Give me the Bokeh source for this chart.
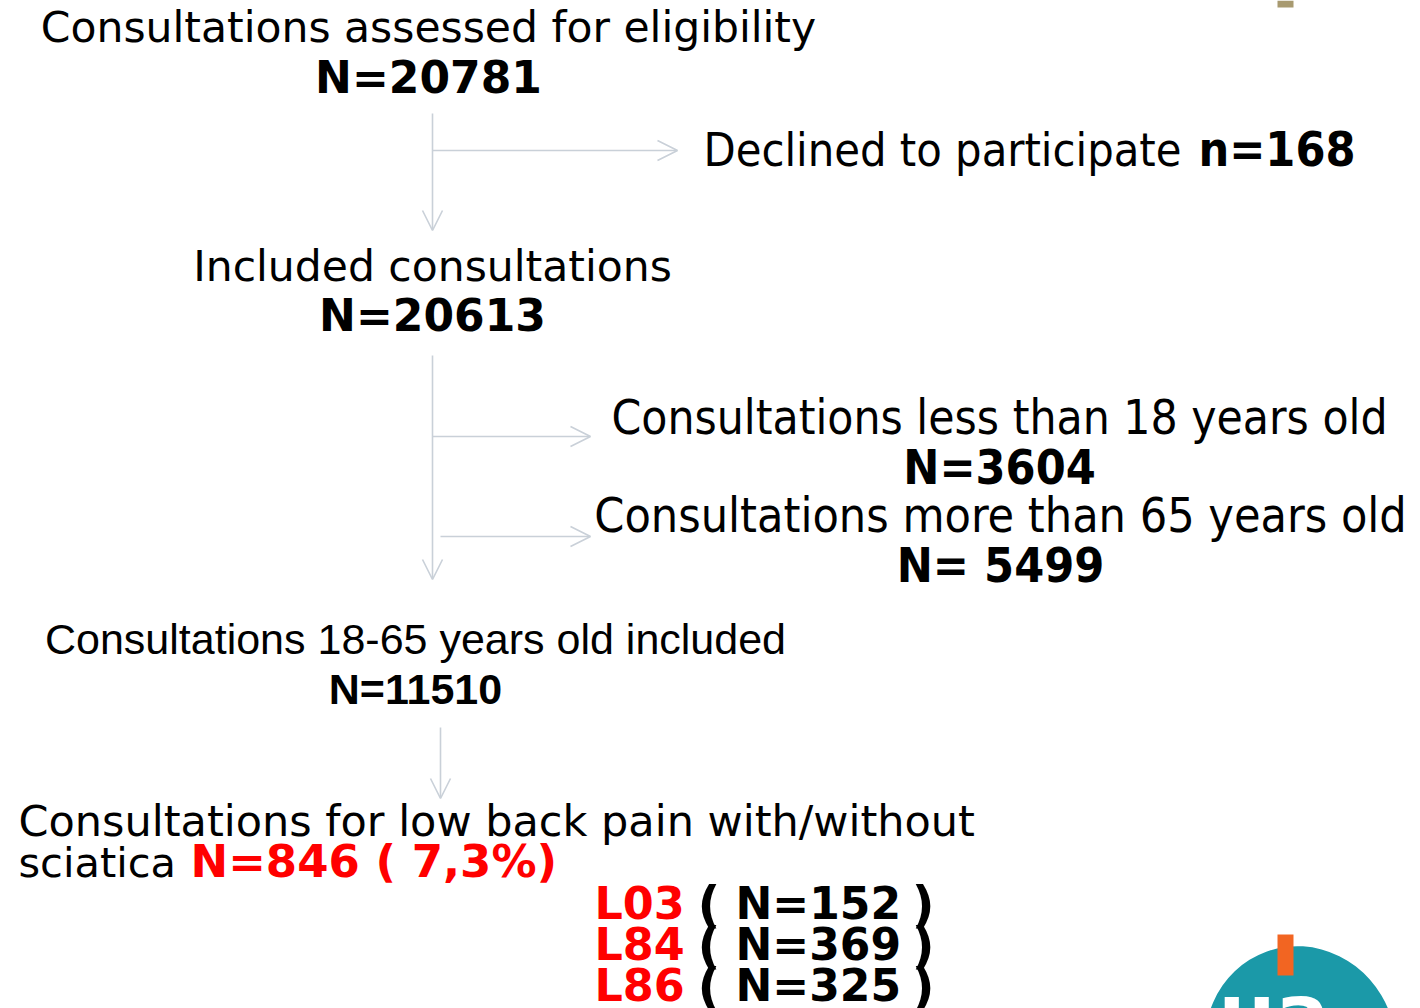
from bokeh.plotting import figure
from bokeh.models import Range1d, Arrow, OpenHead
from bokeh.core.properties import value
from bokeh.embed import file_html
from bokeh.resources import INLINE

# ---- data ----
stage_labels = ["Consultations assessed for eligibility", "Included consultations",
                "Consultations 18-65 years old included",
                "Consultations for low back pain with/without"]
stage_counts = [20781, 20613, 11510, 846]
lbp_tail = "sciatica"
lbp_share = "7,3%"
excluded_labels = ["Declined to participate", "Consultations less than 18 years old",
                   "Consultations more than 65 years old"]
excluded_counts = [168, 3604, 5499]
codes = ["L03", "L84", "L86"]
code_counts = [152, 369, 325]

# ---- layout (pixel positions) ----
W, H = 1420, 1008
p = figure(width=W, height=H, output_backend="svg", toolbar_location=None,
           x_range=Range1d(0, W), y_range=Range1d(H, 0), min_border=0)
p.axis.visible = False
p.grid.visible = False
p.outline_line_color = None
p.background_fill_color = "white"
p.border_fill_color = "white"

VS = value("DejaVu Sans")
VC = value("DejaVu Sans Condensed, DejaVu Sans")
AR = value("Liberation Sans")

def txt(x, y, s, font, size, style="normal", color="black", align="left"):
    yy = y - 0.4 * size
    p.text(x=[x], y=[yy], text=[s], text_font=font, text_font_size=f"{size}px",
           text_font_style=style, text_color=color, text_align=align,
           text_baseline="alphabetic")

# stage 1
txt(428, 44, stage_labels[0], VS, 42.5, align="center")
txt(428, 95, f"N={stage_counts[0]}", VS, 44, "bold", align="center")
# stage 2
txt(432, 283, stage_labels[1], VS, 42.5, align="center")
txt(432, 333, f"N={stage_counts[1]}", VS, 44, "bold", align="center")
# stage 3
txt(415, 656, stage_labels[2], AR, 43, align="center")
txt(415, 706, f"N={stage_counts[2]}", AR, 43, "bold", align="center")
# stage 4
txt(18, 838, stage_labels[3], VS, 43)
txt(18, 879, lbp_tail, VS, 41.5)
txt(190, 879, f"N={stage_counts[3]} ( {lbp_share})", VS, 45, "bold", color="#ff0000")

# exclusions
txt(703, 168, excluded_labels[0], VC, 46.5)
txt(1355, 168, f"n={excluded_counts[0]}", VC, 48, "bold", align="right")
txt(999, 436, excluded_labels[1], VC, 47.5, align="center")
txt(999, 486, f"N={excluded_counts[1]}", VC, 48, "bold", align="center")
txt(1000, 534, excluded_labels[2], VC, 48, align="center")
txt(1000, 584, f"N= {excluded_counts[2]}", VC, 48, "bold", align="center")

# codes
for i, (c, n) in enumerate(zip(codes, code_counts)):
    yb = 921 + 41 * i
    txt(594, yb, c, VS, 44.5, "bold", color="#ff0000")
    txt(697, yb + 3, "(", VS, 50, "bold")
    txt(735, yb, f"N={n}", VS, 44, "bold")
    txt(934, yb + 3, ")", VS, 50, "bold", align="right")

# arrows
AC = "#c9d0d8"
arrows = [
    (432, 113, 432, 230), (432, 150, 677, 150),
    (432, 355, 432, 579), (432, 436, 590, 436), (440, 536, 590, 536),
    (440, 727, 440, 798),
]
for xs, ys, xe, ye in arrows:
    p.add_layout(Arrow(x_start=xs, y_start=ys, x_end=xe, y_end=ye,
                       line_color=AC, line_width=1.6,
                       end=OpenHead(size=20, line_color=AC, line_width=1.6)))

# logo fragments
p.quad(left=[1277], right=[1293], top=[0], bottom=[7], color="#a89a70", line_color=None)
p.ellipse(x=[1300], y=[1045], width=[190], height=[200], angle=0.35,
          fill_color="#1b99a8", line_color=None)
p.quad(left=[1277], right=[1293], top=[934], bottom=[975], color="#f26522", line_color=None)
txt(1218, 1045, "ua", VS, 80, "bold", color="white")

open("out.html", "w").write(file_html(p, INLINE))
